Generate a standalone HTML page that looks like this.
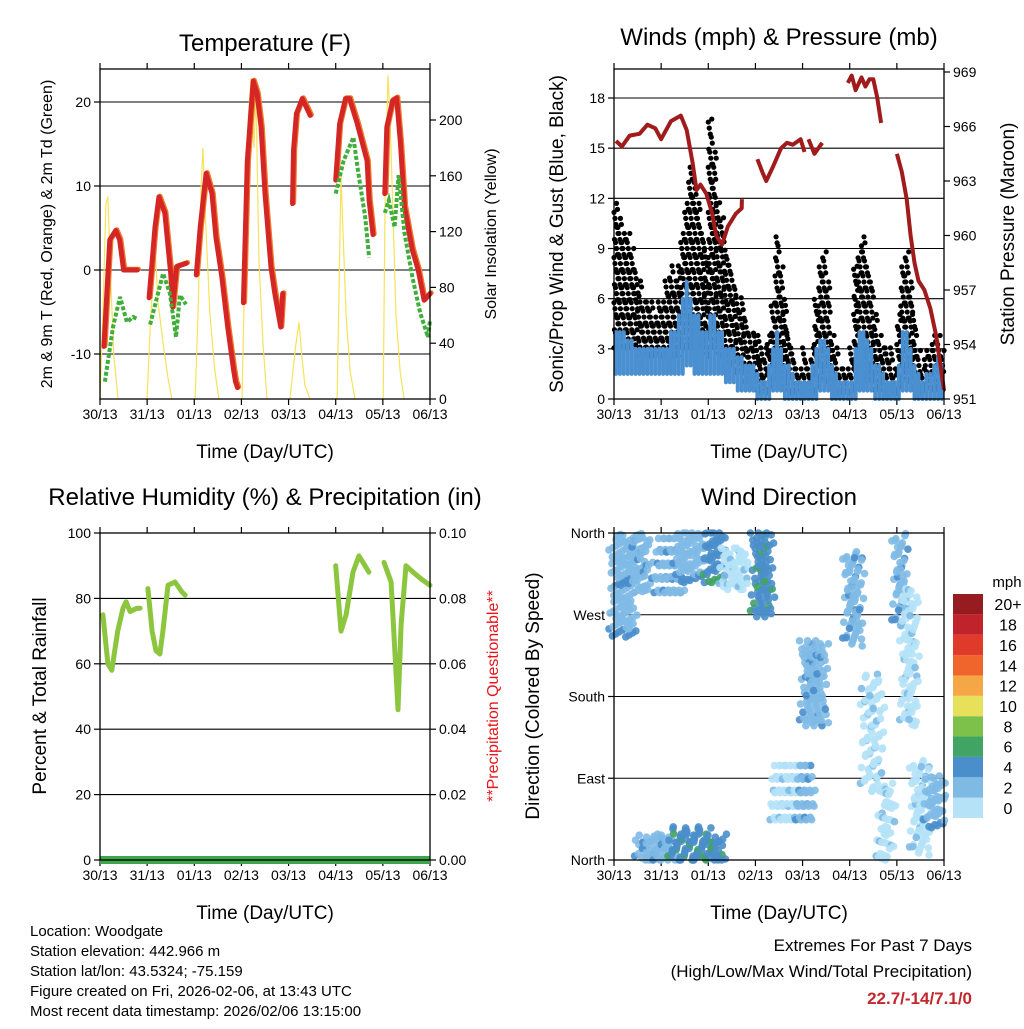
<!DOCTYPE html>
<html><head><meta charset="utf-8"><style>
body{margin:0;background:#fff;}
svg text{font-family:"Liberation Sans",sans-serif;fill:#000;}
</style></head><body>
<svg id="s" width="1024" height="1024" viewBox="0 0 1024 1024" xmlns="http://www.w3.org/2000/svg"></svg>
<script>
// ---------- DATA ----------
const dayLabels=["30/13","31/13","01/13","02/13","03/13","04/13","05/13","06/13"];
const tempT=[2,5,8,10,12,19,null,25,28,30,33,36,37,39,44,null,49,51,54,57,59,62,65,68,69,70,null,73,75,78,80,82,84,87,89,92,93,null,98,98.5,100,103,107,null,120,122,125,127,131,136,137,139,null,145,146,149,151,153,155,159,162,165,168];
const tempV=[-9.1,3.6,4.7,3.6,0,0,null,-3.3,5.1,8.7,6.8,-0.4,-4.4,0.4,0.8,null,-0.6,5.1,11.5,9.1,3.9,-0.8,-6.8,-11.9,-13.3,-14,null,-3.9,13,22.5,21,17,9.1,0.4,-2.8,-6.8,-2.8,null,7.9,14.2,18.6,20.4,18.4,null,10.7,17.4,20.4,20.4,17.4,13,8.3,4.2,null,9.1,17,20.2,20.5,15,7.5,2.4,0,-3.6,-2.8];
const dewT=[2.5,6.6,10.2,13.7,16.8,18.8,null,25.5,32.1,35.6,38.7,40.7,43.8,null,120,124,129,131.3,135,137,null,145,147,150,152,155,159,163,167,168];
const dewV=[-13.3,-6.8,-3.2,-6.2,-5.6,-5.8,null,-6.5,-0.4,-2.8,-8,-3,-4.1,null,9.1,13,15.8,11.9,6.3,1.5,null,6.8,8.3,5.1,11.3,4.4,-0.8,-5.1,-8,-6];
const solarT=[0,1.5,3,4,5.6,7.1,9.2,null,24,25.5,28,29.5,32.1,34.6,36.6,null,48.4,49.9,51.4,52.4,54,56,58.5,60.6,null,72.3,73.8,75.4,76.9,78.4,79.4,80.9,83,85,null,96.7,98.2,99.8,101.3,102.8,104.3,106.9,null,120.7,121.7,122.7,123.7,125.3,127.3,129.8,null,144.2,145.2,146.6,147.7,149.2,150.7,152.8,154.8];
const solarV=[0,60,140,145,80,30,0,null,0,50,110,70,40,15,0,null,0,60,150,180,120,60,20,0,null,0,100,200,230,180,220,100,40,0,null,0,20,40,55,30,10,0,null,0,80,160,120,60,20,0,null,0,150,232,200,130,60,20,0];
const gustHi=[12,11,10,10,9,8,7,6,6,6,5,6, 6,7,8,7,8,10,12,14,13,12,10,9, 17,15,12,11,9,8,7,6,6,5,4,4, 4,3,3,4,6,10,8,6,4,3,2,2, 3,2,3,6,8,9,7,4,3,2,2,2, 3,8,9,10,8,7,5,4,3,3,3,2, 5,8,9,7,5,3,2,3,3,4,4,3];
const gustLo=[3,3,3,3,3,3,2.5,2.5,2.5,2.5,2.5,2.5, 2.5,2.5,2.5,2.5,2.5,3,3,3,3,3,3,2.5, 3,3,2.5,2.5,2,2,2,1.5,1.5,1,1,1, 0.5,0.3,0.3,0.5,1,1,1,0.5,0.3,0.3,0.3,0.3, 0.3,0.3,0.3,0.5,1,1,1,0.5,0.3,0.3,0.3,0.3, 0.3,0.5,1,1,1,1,0.5,0.5,0.3,0.3,0.3,0.3, 0.5,1,1,1,0.5,0.5,0.3,0.5,0.5,0.5,0.5,0.5];
const windHi=[4,4,4,3.5,3.5,3,3,3,3,3,3,3, 3,3,4,4,5,6,7,6,5,5,4,4, 5,5,4,4,3,3,3,2.5,2.5,2,2,2, 1.5,1,1,2,3,4,3,2,2,1.5,1,1, 1,1,2,3,3.5,3.5,3,2,1.5,1,1,1, 1,3,4,4,3.5,3,2,2,1.5,1,1,1, 2,4,4,3,2,1.5,1,1.5,1.5,2,2.5,2];
const windLo=[1.5,1.5,1.5,1.5,1.5,1.5,1.5,1.5,1.5,1.5,1.5,1.5, 1.5,1.5,1.5,1.5,1.5,1.5,2,2,1.5,1.5,1.5,1.5, 1.5,1.5,1.5,1.5,1,1,1,0.5,0.5,0.5,0.5,0.5, 0,0,0,0,0.5,0.5,0.5,0,0,0,0,0, 0,0,0,0,0.5,0.5,0.5,0,0,0,0,0, 0,0,0.5,0.5,0.5,0.5,0,0,0,0,0,0, 0,0.5,0.5,0.5,0,0,0,0,0,0,0,0];
const presT=[1,4,8,13,17,21,24,29,34,37,40,42,44,47,50,52,55,58,62,65,65.1,null,73,75.5,77.5,81,85,88,91,95,97,null,99,102,104,106,null,119,121,123,126,128,130,132,134,136,null,144,146.5,149,151,153,155,158,161,164,166,168];
const presV=[965.2,964.9,965.5,965.6,966.1,965.9,965.3,966.3,966.6,965.8,964,962.5,962.8,962.3,961.2,960,959.5,960.5,961.2,961.5,962,null,964.2,963.5,963,963.8,964.8,965.1,965,965.3,964.6,null,965.3,964.5,964.8,965.1,null,968.4,968.8,968,968.7,968.2,968.6,968.6,967.6,966.2,null,964.5,963.5,962,960,958.5,957.5,957,956,954.5,953,951.5];
const rhT=[1.5,4,6,9,11.7,13.3,15.3,18.8,20.4,null,24.4,26.5,28.5,30.5,32,34.6,38.2,41.7,43.3,null,120,122.7,125.3,128.8,131.8,133.9,136.9,null,144.6,148.2,150.2,151.7,153.3,155.8,159.4,163.4,168];
const rhV=[75,60,58,70,77,79,76,77,77,null,83,70,64,63,70,84,85,82,81,null,90,70,75,88,93,91,88,null,91,85,63,46,72,90,88,86,84];
const dirT0=[0,10,23,34,48,56,13,30,48,72,82,95,97,119,128,136,144,148,153,160];
const dirT1=[10,18,34,47,56,68,30,48,56,80,95,100,107,126,136,141,148,153,160,168];
const dirLo=[250,300,290,310,310,300,0,0,0,270,40,40,150,240,80,0,260,150,10,40];
const dirHi=[360,360,360,360,360,345,25,35,30,360,110,110,240,340,200,80,360,300,110,95];
const dirSpd=[1,1,1,1,2,0,1,2,2,2,0,1,1,1,0,0,1,0,0,1];
const speedColors=["#b5e2f7","#7fbae5","#4a8ecb","#41a364","#7dc04a","#e6e05a","#f6a745","#f0652b","#df3a2a","#c0232b","#971c1f"];
const speedLabels=["0","2","4","6","8","10","12","14","16","18","20+"];

// ---------- HELPERS ----------
const NS="http://www.w3.org/2000/svg";
const svg=document.getElementById('s');
function el(tag,attrs,parent){const e=document.createElementNS(NS,tag);for(const k in attrs)e.setAttribute(k,attrs[k]);(parent||svg).appendChild(e);return e;}
function txt(x,y,s,size,anchor,parent,extra){const t=el('text',Object.assign({x:x,y:y,'font-size':size,'text-anchor':anchor||'middle'},extra||{}),parent);t.textContent=s;return t;}
function lin(d0,d1,r0,r1){return v=>r0+(v-d0)*(r1-r0)/(d1-d0);}
function pathFrom(T,V,sx,sy){let d="",pen=false;for(let i=0;i<T.length;i++){if(T[i]===null||V[i]===null){pen=false;continue;}d+=(pen?"L":"M")+sx(T[i]).toFixed(1)+","+sy(V[i]).toFixed(1);pen=true;}return d;}

function panel(name,x0,x1,y0,y1,title,titleY){
  const g=el('g',{});
  
  
  const tt=txt((x0+x1)/2,titleY,title,24,'middle',g);
  
  
  const sx=lin(0,168,x0,x1);
  for(let i=0;i<dayLabels.length;i++){
    const x=sx(i*24);
    el('line',{x1:x,y1:y1,x2:x,y2:y1+6,stroke:'#000','stroke-width':1.2},g);
    el('line',{x1:x,y1:y0,x2:x,y2:y0-6,stroke:'#000','stroke-width':1.2},g);
    const l=txt(x,y1+20,dayLabels[i],14,'middle',g);
    
    
  }
  const xt=txt((x0+x1)/2,y1+59,'Time (Day/UTC)',19,'middle',g);
  
  
  return {g,sx};
}
function frame(g,x0,x1,y0,y1){el('rect',{x:x0,y:y0,width:x1-x0,height:y1-y0,fill:'none',stroke:'#000','stroke-width':1.3},g);}
function hgrid(g,x0,x1,y){el('line',{x1:x0,y1:y,x2:x1,y2:y,stroke:'#000','stroke-width':1.1},g);}
function ytick(g,x,y,label,side){
  el('line',{x1:x,y1:y,x2:x+(side==='l'?-6:6),y2:y,stroke:'#000','stroke-width':1.2},g);
  const t=txt(x+(side==='l'?-9:9),y+5,label,14,side==='l'?'end':'start',g);
  
  
}
function vtitle(g,x,y,s,size,name,color){const t=txt(x,y,s,size,'middle',g,{transform:'rotate(-90 '+x+' '+y+')'});if(color)t.setAttribute('style','fill:'+color);}

// ---------- PANEL 1: Temperature ----------
{
  const X0=100,X1=430,Y0=69,Y1=399;
  const {g,sx}=panel('temperature-panel',X0,X1,Y0,Y1,'Temperature (F)',51);
  const sy=lin(0,20,270,102), sS=lin(0,200,399,120);
  [-10,0,10,20].forEach(v=>{hgrid(g,X0,X1,sy(v));ytick(g,X0,sy(v),String(v),'l');});
  [0,40,80,120,160,200].forEach(v=>ytick(g,X1,sS(v),String(v),'r'));
  const sol=el('path',{d:pathFrom(solarT,solarV,sx,sS),fill:'none',stroke:'#f7e25a','stroke-width':1.2},g);
  
  
  const o=el('path',{d:pathFrom(tempT,tempV,sx,sy),fill:'none',stroke:'#f07a2c','stroke-width':5,'stroke-linejoin':'round','stroke-linecap':'round',transform:'translate(1.2,-0.8)'},g);
  
  
  const r=el('path',{d:pathFrom(tempT,tempV,sx,sy),fill:'none',stroke:'#d42624','stroke-width':5,'stroke-linejoin':'round','stroke-linecap':'round'},g);
  
  
  const d=el('path',{d:pathFrom(dewT,dewV,sx,sy),fill:'none',stroke:'#3fae3a','stroke-width':4,'stroke-dasharray':'4 2'},g);
  
  
  frame(g,X0,X1,Y0,Y1);
  vtitle(g,52,234,'2m & 9m T (Red, Orange) & 2m Td (Green)',16,'y-axis-title-left');
  vtitle(g,496,234,'Solar Insolation (Yellow)',16,'y-axis-title-right');
}

// ---------- PANEL 2: Winds & Pressure ----------
{
  const X0=614,X1=944,Y0=69,Y1=399;
  const {g,sx}=panel('winds-panel',X0,X1,Y0,Y1,'Winds (mph) & Pressure (mb)',45);
  const sy=lin(0,18,399,98), sp=lin(951,969,399,72);
  [3,6,9,12,15,18].forEach(v=>hgrid(g,X0,X1,sy(v)));
  [0,3,6,9,12,15,18].forEach(v=>ytick(g,X0,sy(v),String(v),'l'));
  [951,954,957,960,963,966,969].forEach(v=>ytick(g,X1,sp(v),String(v),'r'));
  for(let i=0;i<gustHi.length;i++){
    let k=0;
    for(let v=gustLo[i];v<=gustHi[i];v+=0.3){
      const dot=el('circle',{cx:sx(i*2)+((k*7+i*3)%9)*0.5,cy:sy(v)+((k*5)%3)-1,r:2.6,fill:'#000'},g);
      
      
      k++;
    }
  }
  for(let i=0;i<windHi.length;i++){
    const x=sx(i*2+1);
    const b=el('line',{x1:x,y1:sy(windLo[i]),x2:x,y2:sy(windHi[i]),stroke:'#4a8fd0','stroke-width':4,'stroke-linecap':'round'},g);
    
    
  }
  const p=el('path',{d:pathFrom(presT,presV,sx,sp),fill:'none',stroke:'#a01b1b','stroke-width':4,'stroke-linejoin':'round'},g);
  
  
  frame(g,X0,X1,Y0,Y1);
  vtitle(g,563,234,'Sonic/Prop Wind & Gust (Blue, Black)',19,'y-axis-title-left');
  vtitle(g,1014,234,'Station Pressure (Maroon)',19,'y-axis-title-right');
}

// ---------- PANEL 3: RH ----------
{
  const X0=100,X1=430,Y0=533,Y1=860;
  const {g,sx}=panel('humidity-panel',X0,X1,Y0,Y1,'Relative Humidity (%) & Precipitation (in)',505);
  const sy=lin(0,100,860,533);
  [20,40,60,80].forEach(v=>hgrid(g,X0,X1,sy(v)));
  [0,20,40,60,80,100].forEach(v=>ytick(g,X0,sy(v),String(v),'l'));
  ['0.00','0.02','0.04','0.06','0.08','0.10'].forEach((s,i)=>ytick(g,X1,sy(i*20),s,'r'));
  const r=el('path',{d:pathFrom(rhT,rhV,sx,sy),fill:'none',stroke:'#8cc63f','stroke-width':5,'stroke-linejoin':'round','stroke-linecap':'round'},g);
  
  
  const pr=el('line',{x1:X0,y1:sy(0),x2:X1,y2:sy(0),stroke:'#3fa54a','stroke-width':8},g);
  
  
  frame(g,X0,X1,Y0,Y1);
  vtitle(g,46,696,'Percent & Total Rainfall',19,'y-axis-title-left');
  vtitle(g,498,696,'**Precipitation Questionable**',16,'y-axis-title-right','#e8141b');
}

// ---------- PANEL 4: Wind Direction ----------
{
  const X0=614,X1=944,Y0=533,Y1=860;
  const {g,sx}=panel('wind-direction-panel',X0,X1,Y0,Y1,'Wind Direction',505);
  const sy=lin(0,360,860,533);
  [90,180,270].forEach(v=>hgrid(g,X0,X1,sy(v)));
  ['North','East','South','West','North'].forEach((s,i)=>ytick(g,X0,sy(i*90),s,'l'));
  for(let c=0;c<dirT0.length;c++){
    let k=0;
    for(let t=dirT0[c];t<=dirT1[c];t+=1.2){
      for(let d=dirLo[c];d<=dirHi[c];d+=8){
        const jx=((k*37)%11)-5, jy=((k*23)%9)-4;
        const dot=el('circle',{cx:sx(t)+jx,cy:Math.min(860,Math.max(533,sy(d)+jy)),r:3.8,fill:speedColors[dirSpd[c]+((k%7===0)?1:0)],opacity:0.9},g);
        
        
        k++;
      }
    }
  }
  frame(g,X0,X1,Y0,Y1);
  vtitle(g,539,696,'Direction (Colored By Speed)',19,'y-axis-title-left');
  const cb=el('g',{},g);
  
  
  const bh=(818-594)/speedColors.length;
  for(let i=0;i<speedColors.length;i++){
    const y=818-(i+1)*bh;
    const r=el('rect',{x:953,y:y,width:30,height:bh,fill:speedColors[i]},cb);
    
    
    const l=txt(1008,y+bh/2+6,speedLabels[i],16,'middle',cb);
    
    
  }
  const m=txt(1007,587,'mph',15,'middle',cb);
  
  
}

// ---------- Footer ----------
{
  const f=el('g',{});
  
  
  ['Location: Woodgate','Station elevation: 442.966 m','Station lat/lon: 43.5324; -75.159','Figure created on Fri, 2026-02-06, at 13:43 UTC','Most recent data timestamp: 2026/02/06 13:15:00'].forEach((s,i)=>txt(30,936+i*20,s,15,'start',f));
  const e=el('g',{});
  
  
  txt(972,951,'Extremes For Past 7 Days',17,'end',e);
  txt(972,977,'(High/Low/Max Wind/Total Precipitation)',17,'end',e);
  const v=txt(972,1004,'22.7/-14/7.1/0',17,'end',e,{'font-weight':'bold'});
  v.setAttribute('style','fill:#c1272d');
}
</script>
</body></html>
